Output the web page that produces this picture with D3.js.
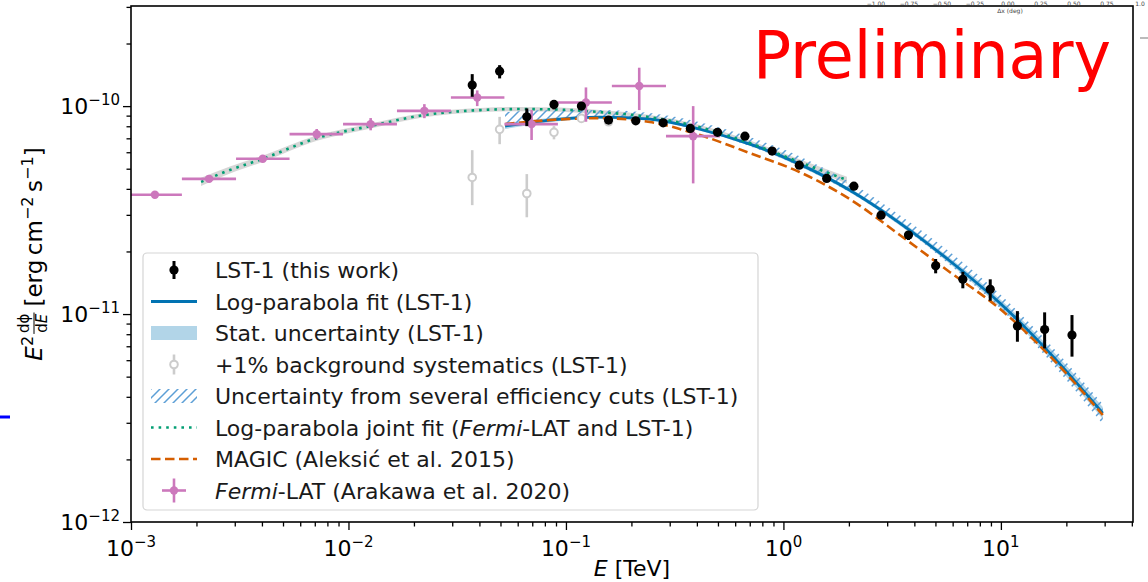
<!DOCTYPE html>
<html>
<head>
<meta charset="utf-8">
<title>Crab SED - LST-1</title>
<script src="https://d3js.org/d3.v7.min.js"></script>
<style>
  body { margin: 0; background: #fff; }
  svg text { font-family: "DejaVu Sans", sans-serif; }
</style>
</head>
<body>
<svg id="chart" width="1148" height="582"></svg>
<script>
// ---- axis limits / ticks ----
const xLim = [1e-3, 40.5];
const yLim = [1e-12, 3.03e-10];
const xMajor = [1e-3, 1e-2, 1e-1, 1e0, 1e1];
const yMajor = [1e-12, 1e-11, 1e-10];

// ---- LST-1 flux points (this work) ----
const lstE = [0.03707, 0.04955, 0.06607, 0.0881, 0.1178, 0.157, 0.2094, 0.2799, 0.3733, 0.4977, 0.6653, 0.8872,
              1.183, 1.581, 2.109, 2.812, 3.758, 5.012, 6.683, 8.933, 11.91, 15.89, 21.23];
const lstF = [1.262e-10, 1.472e-10, 8.88e-11, 1.019e-10, 1.0e-10, 8.57e-11, 8.5e-11, 8.31e-11, 7.81e-11, 7.48e-11, 7.17e-11, 6.08e-11,
              5.2e-11, 4.49e-11, 4.12e-11, 2.99e-11, 2.4e-11, 1.706e-11, 1.469e-11, 1.315e-11, 8.75e-12, 8.43e-12, 7.92e-12];
const lstLo = [1.109e-10, 1.359e-10, 8.01e-11, 9.64e-11, 9.78e-11, 8.38e-11, 8.32e-11, 8.13e-11, 7.64e-11, 7.32e-11, 7.01e-11, 5.95e-11,
               5.09e-11, 4.39e-11, 4.03e-11, 2.92e-11, 2.27e-11, 1.57e-11, 1.33e-11, 1.159e-11, 7.36e-12, 6.84e-12, 6.24e-12];
const lstHi = [1.425e-10, 1.574e-10, 9.75e-11, 1.069e-10, 1.022e-10, 8.76e-11, 8.69e-11, 8.5e-11, 7.99e-11, 7.65e-11, 7.33e-11, 6.21e-11,
               5.31e-11, 4.59e-11, 4.21e-11, 3.06e-11, 2.51e-11, 1.84e-11, 1.596e-11, 1.469e-11, 1.033e-11, 1.019e-11, 9.89e-12];

// ---- +1% background systematics (LST-1) ----
const bkgE = [0.03707, 0.04955, 0.06607, 0.0881, 0.1178, 0.157];
const bkgF = [4.54e-11, 7.73e-11, 3.8e-11, 7.48e-11, 8.73e-11, 8.41e-11];
const bkgLo = [3.34e-11, 6.56e-11, 2.92e-11, 6.92e-11, 8.45e-11, 8.2e-11];
const bkgHi = [6.14e-11, 8.88e-11, 4.71e-11, 8.01e-11, 9.02e-11, 8.6e-11];

// ---- Fermi-LAT (Arakawa et al. 2020) ----
const fermiE = [0.001288, 0.002286, 0.004036, 0.007145, 0.012647, 0.022336, 0.039084, 0.069502, 0.12359, 0.21727, 0.38459];
const fermiElo = [0.001, 0.001714, 0.003041, 0.005358, 0.009441, 0.01671, 0.02958, 0.05212, 0.09183, 0.1626, 0.2884];
const fermiEhi = [0.001714, 0.003041, 0.005358, 0.009441, 0.01671, 0.02958, 0.05212, 0.09183, 0.1626, 0.2884, 0.5105];
const fermiF = [3.75e-11, 4.47e-11, 5.58e-11, 7.33e-11, 8.19e-11, 9.49e-11, 1.1e-10, 8.19e-11, 1.04e-10, 1.25e-10, 7.17e-11];
const fermiLo = [3.67e-11, 4.37e-11, 5.45e-11, 6.92e-11, 7.65e-11, 8.75e-11, 1.0e-10, 6.87e-11, 8.41e-11, 9.57e-11, 4.25e-11];
const fermiHi = [3.83e-11, 4.57e-11, 5.7e-11, 7.76e-11, 8.76e-11, 1.022e-10, 1.19e-10, 9.57e-11, 1.23e-10, 1.53e-10, 1.0e-10];

// ---- log-parabola fit (LST-1) ----
const fitE = [0.0525, 0.0843, 0.143, 0.243, 0.413, 0.701, 1.185, 2.02, 3.43, 5.83, 9.89, 16.8, 29.4];
const fitF = [8.01e-11, 8.57e-11, 8.85e-11, 8.66e-11, 7.74e-11, 6.56e-11, 5.26e-11, 3.94e-11, 2.74e-11, 1.8e-11, 1.13e-11, 6.49e-12, 3.34e-12];
const statDex = [0.014, 0.01, 0.007, 0.007, 0.007, 0.007, 0.01, 0.01, 0.012, 0.014, 0.019, 0.024, 0.029];
const effUpDex = [0.067, 0.048, 0.034, 0.029, 0.034, 0.034, 0.038, 0.038, 0.038, 0.043, 0.043, 0.043, 0.043];
const effDownDex = [0.0, 0.005, 0.0, 0.005, 0.005, 0.01, 0.01, 0.01, 0.01, 0.019, 0.024, 0.038, 0.053];

// ---- MAGIC (Aleksic et al. 2015) ----
const magicE = [0.0525, 0.0843, 0.143, 0.243, 0.413, 0.701, 1.185, 2.02, 3.43, 5.83, 9.89, 16.8, 29.4];
const magicF = [8.19e-11, 8.57e-11, 8.75e-11, 8.38e-11, 7.26e-11, 5.94e-11, 4.82e-11, 3.57e-11, 2.4e-11, 1.59e-11, 1.06e-11, 6.28e-12, 3.27e-12];

// ---- joint fit (Fermi-LAT and LST-1) ----
const jointE = [0.0021, 0.00285, 0.004, 0.00716, 0.01256, 0.02223, 0.0403, 0.0615, 0.0938, 0.143, 0.243, 0.413, 0.701, 1.185, 1.96];
const jointF = [4.32e-11, 4.93e-11, 5.56e-11, 7.02e-11, 8.01e-11, 9.05e-11, 9.57e-11, 9.68e-11, 9.62e-11, 9.36e-11, 8.85e-11, 7.92e-11, 6.64e-11, 5.38e-11, 4.41e-11];
const jointDex = [0.02, 0.017, 0.015, 0.013, 0.012, 0.01, 0.01, 0.01, 0.01, 0.01, 0.01, 0.01, 0.012, 0.014, 0.016];

// ---- legend labels ----
const legendLabels = [
  [["LST-1 (this work)", false]],
  [["Log-parabola fit (LST-1)", false]],
  [["Stat. uncertainty (LST-1)", false]],
  [["+1% background systematics (LST-1)", false]],
  [["Uncertainty from several efficiency cuts (LST-1)", false]],
  [["Log-parabola joint fit (", false], ["Fermi", true], ["-LAT and LST-1)", false]],
  [["MAGIC (Aleksić et al. 2015)", false]],
  [["Fermi", true], ["-LAT (Arakawa et al. 2020)", false]]
];

// tick labels of the neighbouring panel that shows at the top edge
const insetTicks = ["\u22121.00", "\u22120.75", "\u22120.50", "\u22120.25", "0.00", "0.25", "0.50", "0.75", "1.0"];

const C = { blue: '#0173b2', green: '#029e73', orange: '#d55e00', pink: '#cc78bc', grey: '#cccccc', hatch: '#5c9fd6' };

const svg = d3.select('#chart');
const L = 131, R = 1133, T = 6, B = 522;
const x = d3.scaleLog().domain(xLim).range([L, R]);
const y = d3.scaleLog().domain(yLim).range([B, T]);

const defs = svg.append('defs');
defs.append('clipPath').attr('id', 'clip').append('rect')
  .attr('x', L).attr('y', T).attr('width', R - L).attr('height', B - T);
const pat = defs.append('pattern').attr('id', 'hatch').attr('patternUnits', 'userSpaceOnUse')
  .attr('width', 9).attr('height', 9);
pat.append('path').attr('d', 'M0,9 L9,0 M-2,2 L2,-2 M7,11 L11,7')
  .attr('stroke', C.hatch).attr('stroke-width', 1.5);

const plot = svg.append('g').attr('clip-path', 'url(#clip)');

const idx = (arr) => arr.map((d, i) => i);
const shift = (v, dex) => v * Math.pow(10, dex);

// joint fit band
plot.append('path')
  .datum(idx(jointE))
  .attr('fill', '#bbbbbb').attr('opacity', 0.6)
  .attr('d', d3.area().curve(d3.curveMonotoneX)
    .x(i => x(jointE[i])).y0(i => y(shift(jointF[i], -jointDex[i]))).y1(i => y(shift(jointF[i], jointDex[i]))));

// stat band
plot.append('path')
  .datum(idx(fitE))
  .attr('fill', C.blue).attr('opacity', 0.3)
  .attr('d', d3.area().curve(d3.curveMonotoneX)
    .x(i => x(fitE[i])).y0(i => y(shift(fitF[i], -statDex[i]))).y1(i => y(shift(fitF[i], statDex[i]))));

// efficiency-cut band (hatched)
plot.append('path')
  .datum(idx(fitE))
  .attr('fill', 'url(#hatch)')
  .attr('d', d3.area().curve(d3.curveMonotoneX)
    .x(i => x(fitE[i])).y0(i => y(shift(fitF[i], -effDownDex[i]))).y1(i => y(shift(fitF[i], effUpDex[i]))));

const lineOf = (E, F) => d3.line().curve(d3.curveMonotoneX).x(i => x(E[i])).y(i => y(F[i]))(idx(E));

plot.append('path').attr('d', lineOf(fitE, fitF))
  .attr('fill', 'none').attr('stroke', C.blue).attr('stroke-width', 2.8);
plot.append('path').attr('d', lineOf(jointE, jointF))
  .attr('fill', 'none').attr('stroke', C.green).attr('stroke-width', 2.6)
  .attr('stroke-dasharray', '2.6 5');
plot.append('path').attr('d', lineOf(magicE, magicF))
  .attr('fill', 'none').attr('stroke', C.orange).attr('stroke-width', 2.6)
  .attr('stroke-dasharray', '9.5 4.5');

// background systematics points
const bkg = plot.append('g');
bkg.selectAll('line').data(idx(bkgE)).join('line')
  .attr('x1', i => x(bkgE[i])).attr('x2', i => x(bkgE[i]))
  .attr('y1', i => y(bkgLo[i])).attr('y2', i => y(bkgHi[i]))
  .attr('stroke', C.grey).attr('stroke-width', 2.6);
bkg.selectAll('circle').data(idx(bkgE)).join('circle')
  .attr('cx', i => x(bkgE[i])).attr('cy', i => y(bkgF[i])).attr('r', 3.8)
  .attr('fill', '#fff').attr('stroke', C.grey).attr('stroke-width', 2);

// Fermi-LAT points
const fe = plot.append('g');
fe.selectAll('line.h').data(idx(fermiE)).join('line').attr('class', 'h')
  .attr('x1', i => x(fermiElo[i])).attr('x2', i => x(fermiEhi[i]))
  .attr('y1', i => y(fermiF[i])).attr('y2', i => y(fermiF[i]))
  .attr('stroke', C.pink).attr('stroke-width', 2.6);
fe.selectAll('line.v').data(idx(fermiE)).join('line').attr('class', 'v')
  .attr('x1', i => x(fermiE[i])).attr('x2', i => x(fermiE[i]))
  .attr('y1', i => y(fermiLo[i])).attr('y2', i => y(fermiHi[i]))
  .attr('stroke', C.pink).attr('stroke-width', 2.6);
fe.selectAll('circle').data(idx(fermiE)).join('circle')
  .attr('cx', i => x(fermiE[i])).attr('cy', i => y(fermiF[i])).attr('r', 4.2)
  .attr('fill', C.pink);

// LST-1 points
const lst = plot.append('g');
lst.selectAll('line').data(idx(lstE)).join('line')
  .attr('x1', i => x(lstE[i])).attr('x2', i => x(lstE[i]))
  .attr('y1', i => y(lstLo[i])).attr('y2', i => y(lstHi[i]))
  .attr('stroke', '#000').attr('stroke-width', 3);
lst.selectAll('circle').data(idx(lstE)).join('circle')
  .attr('cx', i => x(lstE[i])).attr('cy', i => y(lstF[i])).attr('r', 4.6)
  .attr('fill', '#000');

// ---- axes ----
function minorTicks(lim) {
  const out = [];
  for (let e = Math.floor(Math.log10(lim[0])); e <= Math.ceil(Math.log10(lim[1])); e++) {
    for (let m = 2; m <= 9; m++) {
      const v = m * Math.pow(10, e);
      if (v >= lim[0] && v <= lim[1]) out.push(v);
    }
  }
  return out;
}
const xa = svg.append('g').attr('transform', `translate(0,${B})`);
xa.call(d3.axisBottom(x).tickValues(xMajor).tickFormat('').tickSizeInner(8).tickSizeOuter(0));
xa.append('g').call(d3.axisBottom(x).tickValues(minorTicks(xLim)).tickFormat('').tickSizeInner(4.5).tickSizeOuter(0));
const ya = svg.append('g').attr('transform', `translate(${L},0)`);
ya.call(d3.axisLeft(y).tickValues(yMajor).tickFormat('').tickSizeInner(8).tickSizeOuter(0));
ya.append('g').call(d3.axisLeft(y).tickValues(minorTicks(yLim)).tickFormat('').tickSizeInner(4.5).tickSizeOuter(0));
svg.selectAll('.domain').remove();
svg.selectAll('.tick line').attr('stroke', '#000').attr('stroke-width', 1.3);

function powLabel(sel, v) {
  const e = Math.round(Math.log10(v));
  sel.append('tspan').text('10');
  sel.append('tspan').attr('font-size', 15).attr('dy', -9).text(String(e).replace('-', '\u2212'));
}
xMajor.forEach(v => {
  const t = svg.append('text').attr('x', x(v)).attr('y', 556).attr('font-size', 22)
    .attr('text-anchor', 'middle').attr('fill', '#000');
  powLabel(t, v);
});
yMajor.forEach(v => {
  const t = svg.append('text').attr('x', 120).attr('y', y(v) + 8).attr('font-size', 22)
    .attr('text-anchor', 'end').attr('fill', '#000');
  powLabel(t, v);
});

svg.append('rect').attr('x', L).attr('y', T).attr('width', R - L).attr('height', B - T)
  .attr('fill', 'none').attr('stroke', '#000').attr('stroke-width', 1.6);

// x label
const xl = svg.append('text').attr('x', (L + R) / 2).attr('y', 576).attr('font-size', 22)
  .attr('text-anchor', 'middle');
xl.append('tspan').attr('font-style', 'italic').text('E');
xl.append('tspan').text(' [TeV]');

// y label (rotated)
const yl = svg.append('g');
const t1 = yl.append('text').attr('font-size', 23);
t1.append('tspan').attr('font-style', 'italic').text('E');
t1.append('tspan').attr('font-size', 16).attr('dy', -9).text('2');
const w1 = t1.node().getComputedTextLength();
const num = yl.append('text').attr('font-size', 15).attr('text-anchor', 'middle').attr('y', -13).text('d\u03d5');
const den = yl.append('text').attr('font-size', 15).attr('text-anchor', 'middle').attr('y', 5);
den.append('tspan').text('d');
den.append('tspan').attr('font-style', 'italic').text('E');
const fw = Math.max(num.node().getComputedTextLength(), den.node().getComputedTextLength());
const fc = w1 + 3 + fw / 2;
num.attr('x', fc); den.attr('x', fc);
yl.append('line').attr('x1', w1 + 2).attr('x2', w1 + 4 + fw).attr('y1', -8).attr('y2', -8)
  .attr('stroke', '#000').attr('stroke-width', 1);
const t2 = yl.append('text').attr('font-size', 23).attr('x', w1 + fw + 10);
t2.append('tspan').text('[erg\u2009cm');
t2.append('tspan').attr('font-size', 16).attr('dy', -9).text('\u22122');
t2.append('tspan').attr('dy', 9).text('\u2009s');
t2.append('tspan').attr('font-size', 16).attr('dy', -9).text('\u22121');
t2.append('tspan').attr('dy', 9).text(']');
const total = w1 + fw + 10 + t2.node().getComputedTextLength();
yl.attr('transform', `translate(42,${254 + total / 2}) rotate(-90)`);

// ---- legend ----
const lg = svg.append('g');
lg.append('rect').attr('x', 143).attr('y', 253).attr('width', 615).attr('height', 257).attr('rx', 4)
  .attr('fill', '#fff').attr('fill-opacity', 0.8).attr('stroke', '#d5d5d5').attr('stroke-width', 1.2);
const rowY = i => 270 + i * 31.5;
const hx0 = 151, hx1 = 197, hc = 174;
legendLabels.forEach((parts, i) => {
  const t = lg.append('text').attr('x', 215).attr('y', rowY(i) + 8).attr('font-size', 22).attr('fill', '#1a1a1a');
  parts.forEach(p => t.append('tspan').attr('font-style', p[1] ? 'italic' : 'normal').text(p[0]));
});
// handles
lg.append('line').attr('x1', hc).attr('x2', hc).attr('y1', rowY(0) - 9).attr('y2', rowY(0) + 9)
  .attr('stroke', '#000').attr('stroke-width', 3);
lg.append('circle').attr('cx', hc).attr('cy', rowY(0)).attr('r', 4.6).attr('fill', '#000');
lg.append('line').attr('x1', hx0).attr('x2', hx1).attr('y1', rowY(1)).attr('y2', rowY(1))
  .attr('stroke', C.blue).attr('stroke-width', 2.8);
lg.append('rect').attr('x', hx0).attr('y', rowY(2) - 7).attr('width', hx1 - hx0).attr('height', 14)
  .attr('fill', C.blue).attr('opacity', 0.3);
lg.append('line').attr('x1', hc).attr('x2', hc).attr('y1', rowY(3) - 10).attr('y2', rowY(3) + 10)
  .attr('stroke', C.grey).attr('stroke-width', 2.6);
lg.append('circle').attr('cx', hc).attr('cy', rowY(3)).attr('r', 3.8)
  .attr('fill', '#fff').attr('stroke', C.grey).attr('stroke-width', 2);
lg.append('rect').attr('x', hx0).attr('y', rowY(4) - 7).attr('width', hx1 - hx0).attr('height', 14)
  .attr('fill', 'url(#hatch)');
lg.append('line').attr('x1', hx0).attr('x2', hx1).attr('y1', rowY(5)).attr('y2', rowY(5))
  .attr('stroke', C.green).attr('stroke-width', 2.6).attr('stroke-dasharray', '2.6 5');
lg.append('line').attr('x1', hx0).attr('x2', hx1).attr('y1', rowY(6)).attr('y2', rowY(6))
  .attr('stroke', C.orange).attr('stroke-width', 2.6).attr('stroke-dasharray', '9.5 4.5');
lg.append('line').attr('x1', hc - 12).attr('x2', hc + 12).attr('y1', rowY(7)).attr('y2', rowY(7))
  .attr('stroke', C.pink).attr('stroke-width', 2.6);
lg.append('line').attr('x1', hc).attr('x2', hc).attr('y1', rowY(7) - 12).attr('y2', rowY(7) + 12)
  .attr('stroke', C.pink).attr('stroke-width', 2.6);
lg.append('circle').attr('cx', hc).attr('cy', rowY(7)).attr('r', 4.2).attr('fill', C.pink);

// ---- "Preliminary" stamp ----
svg.append('text').attr('x', 753).attr('y', 78).attr('font-size', 65)
  .attr('font-family', '"Liberation Sans", Arial, sans-serif').attr('fill', '#ff0000')
  .attr('textLength', 358).attr('lengthAdjust', 'spacingAndGlyphs')
  .text('Preliminary');

// ---- bits of neighbouring panels left in the crop ----
insetTicks.forEach((s, i) => {
  svg.append('text').attr('x', 876 + i * 33).attr('y', 6).attr('font-size', 6)
    .attr('text-anchor', 'middle').attr('fill', '#444').text(s);
});
svg.append('text').attr('x', 1010).attr('y', 13).attr('font-size', 6).attr('text-anchor', 'middle')
  .attr('fill', '#444').text('\u0394x (deg)');
svg.append('line').attr('x1', 1140).attr('x2', 1148).attr('y1', 38).attr('y2', 38)
  .attr('stroke', '#bbb').attr('stroke-width', 2);
svg.append('line').attr('x1', 0).attr('x2', 10).attr('y1', 417).attr('y2', 417)
  .attr('stroke', '#0000ff').attr('stroke-width', 3);
</script>
</body>
</html>
